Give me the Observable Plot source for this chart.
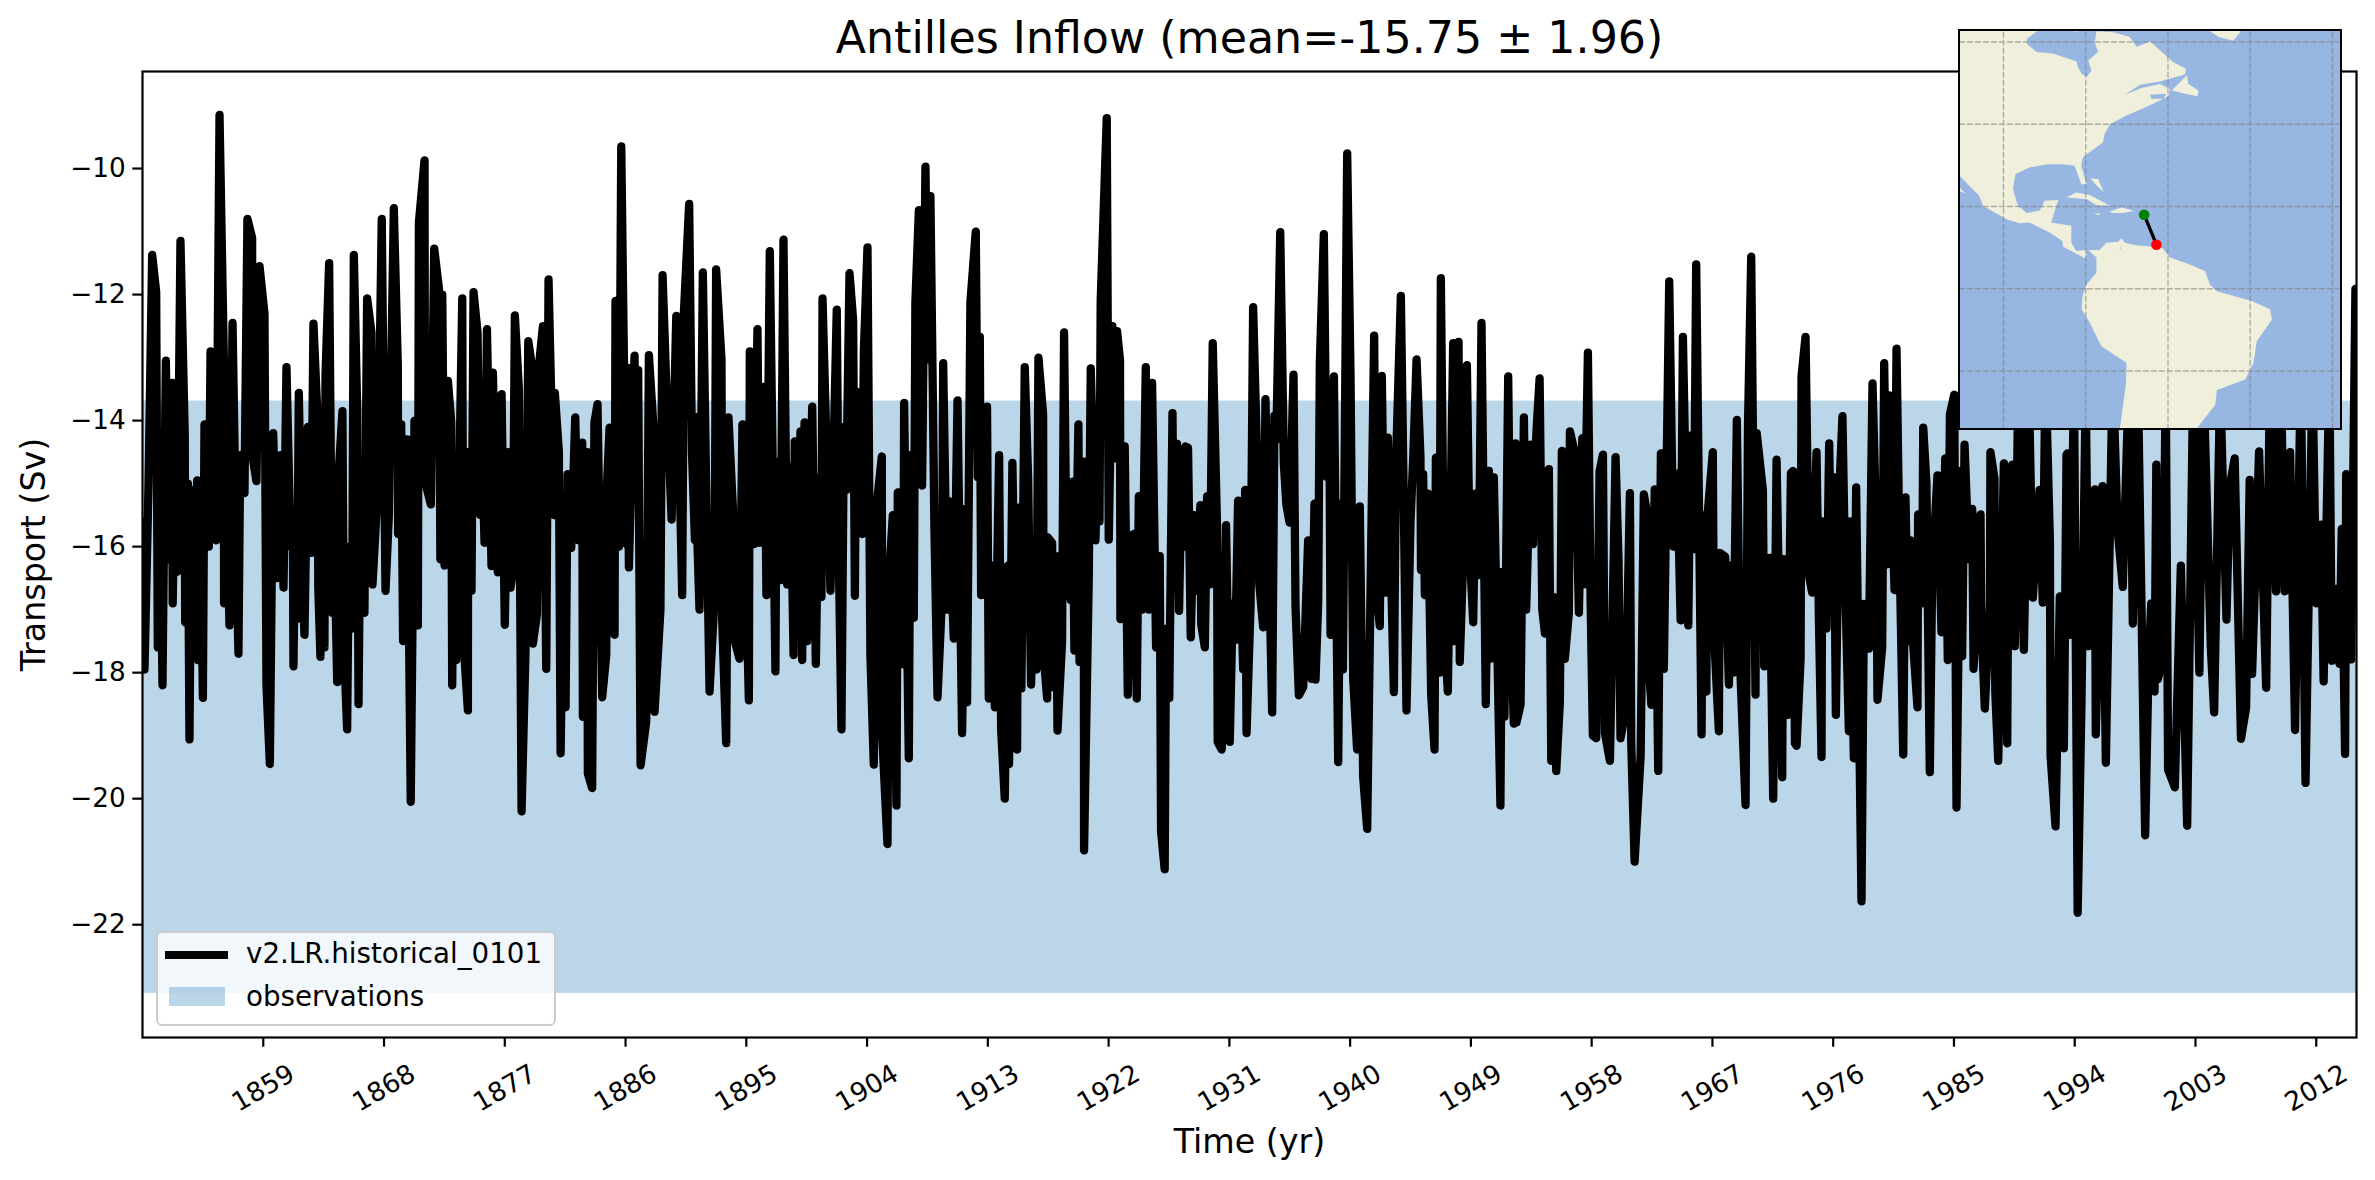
<!DOCTYPE html>
<html>
<head>
<meta charset="utf-8">
<script src="https://cdn.jsdelivr.net/npm/d3@7"></script>
<script src="https://cdn.jsdelivr.net/npm/@observablehq/plot@0.6"></script>
<style>
html,body{margin:0;padding:0;background:#fff;}
#wrap{position:relative;width:2375px;height:1180px;font-family:"DejaVu Sans",sans-serif;overflow:hidden;}
#inset{position:absolute;left:1958px;top:29px;}
#legend{position:absolute;left:156px;top:931px;width:396px;height:91px;box-sizing:content-box;background:rgba(255,255,255,.8);border:2.2px solid #ccc;border-radius:6px;font-size:27.7px;color:#000;}
#legend .t{position:absolute;left:88px;line-height:30px;white-space:nowrap;}
#legend .l{position:absolute;left:7px;top:18px;width:63px;height:8px;background:#000;}
#legend .p{position:absolute;left:11px;top:54px;width:56px;height:19px;background:#1f77b4;opacity:.3;}
</style>
</head>
<body>
<div id="wrap"><div id="chart"></div><div id="inset"></div>
<div id="legend"><div class="l"></div><div class="t" style="top:6px">v2.LR.historical_0101</div><div class="p"></div><div class="t" style="top:49px">observations</div></div>
</div>
<script>
const titleText = "Antilles Inflow (mean=-15.75 ± 1.96)";
const yLabel = "Transport (Sv)";
const xLabel = "Time (yr)";
const yearTicks = [1859,1868,1877,1886,1895,1904,1913,1922,1931,1940,1949,1958,1967,1976,1985,1994,2003,2012];
const transportTicks = [-22,-20,-18,-16,-14,-12,-10];
const obsLow = -23.09, obsHigh = -13.69;

// [decimal year, transport in Sv]
const seg1850 = [1850.00,-15.6,1850.15,-17.95,1850.45,-15.0,1850.72,-11.37,1851.02,-11.96,1851.14,-17.6,1851.34,-15.5,1851.49,-18.2,1851.74,-13.05,1851.94,-16.2,1852.21,-13.4,1852.25,-16.9,1852.42,-14.5,1852.58,-16.4,1852.83,-11.15,1853.15,-14.25,1853.18,-17.2,1853.38,-15.0,1853.50,-19.06,1853.65,-15.1,1853.87,-17.6,1854.07,-14.95,1854.12,-17.8,1854.32,-15.2,1854.50,-18.4,1854.62,-14.06,1854.94,-16,1855.07,-12.9,1855.31,-15.0,1855.49,-15.9,1855.74,-9.15,1856.06,-13.0,1856.08,-16.9,1856.26,-14.5,1856.48,-17.25,1856.71,-12.45,1856.98,-16,1857.15,-17.7,1857.28,-14.55,1857.60,-15.15,1857.82,-10.8,1858.17,-11.1,1858.19,-14.55,1858.49,-14.96,1858.72,-11.55,1859.09,-12.3,1859.24,-18.2,1859.49,-19.45,1859.74,-14.2,1860.03,-16.5,1860.28,-14.55,1860.51,-16.65,1860.73,-13.15,1861.03,-16,1861.20,-15.6,1861.25,-17.9,1861.40,-15.5,1861.52,-17.15,1861.65,-13.56,1861.85,-16,1862.07,-17.4,1862.32,-14.1,1862.57,-16.1,1862.74,-12.46,1863.06,-14.03,1863.10,-16.65,1863.26,-17.75,1863.34,-15.2,1863.56,-17.6,1863.64,-13.27,1863.91,-11.5,1864.13,-17.05,1864.26,-15.5,1864.51,-18.15,1864.63,-14.8,1864.90,-13.85,1865.00,-17.5,1865.25,-18.9,1865.38,-16,1865.62,-17.3,1865.75,-11.37,1866.00,-13.8,1866.10,-18.5,1866.24,-15.2,1866.54,-17.05,1866.74,-12.06,1867.06,-12.6,1867.14,-16.6,1867.54,-15.05,1867.83,-10.8,1868.11,-16.7,1868.36,-15.5,1868.73,-10.63,1869.03,-13.15,1869.05,-15.8,1869.28,-14.06,1869.42,-17.5,1869.72,-14.3,1869.99,-20.05,1870.27,-14.0,1870.52,-17.25];
const seg1870 = [1870.60,-10.85,1871.02,-9.87,1871.05,-14.96,1871.49,-15.33,1871.74,-11.27,1872.09,-11.9,1872.20,-16.2,1872.34,-12.0,1872.51,-16.3,1872.76,-13.37,1873.01,-14.03,1873.08,-18.2,1873.20,-15.6,1873.38,-17.8,1873.83,-12.06,1873.90,-17.42,1874.25,-18.6,1874.27,-14.5,1874.52,-16.7,1874.67,-11.96,1874.97,-12.6,1875.05,-14.2,1875.17,-15.5,1875.32,-14.5,1875.49,-15.94,1875.67,-12.55,1876.01,-16.31,1876.11,-13.24,1876.48,-16.41,1876.76,-13.58,1877.00,-17.24,1877.23,-14.5,1877.43,-16.65,1877.60,-16.4,1877.75,-12.33,1878.05,-13.5,1878.25,-20.2,1878.55,-17.6,1878.75,-12.74,1879.04,-13.16,1879.09,-17.54,1879.39,-17.08,1879.59,-13.04,1879.84,-12.5,1880.09,-17.94,1880.26,-11.76,1880.66,-15.5,1880.73,-13.56,1881.03,-14.5,1881.16,-19.28,1881.33,-16.7,1881.53,-18.55,1881.68,-14.85,1881.95,-16.02,1882.25,-13.95,1882.47,-15.9,1882.77,-14.35,1882.82,-18.7,1883.14,-14.5,1883.19,-19.6,1883.51,-19.83,1883.68,-14.03,1883.91,-13.74,1884.26,-18.39,1884.56,-17.72,1884.63,-14.97,1884.81,-14.11,1885.18,-17.4,1885.25,-12.1,1885.50,-16.0,1885.68,-9.65,1886.05,-15.96,1886.12,-13.16,1886.25,-16.33,1886.67,-12.97,1886.79,-15.2,1886.94,-13.2,1887.12,-19.47,1887.54,-18.78,1887.74,-12.96,1888.10,-14.18,1888.16,-18.62,1888.60,-17,1888.76,-11.69,1889.03,-13.4,1889.43,-15.57,1889.78,-12.34,1890.22,-16.77,1890.35,-12.28,1890.74,-10.56,1890.95,-14.5,1891.17,-15.9];
const seg1891 = [1891.21,-13.94,1891.35,-15.88,1891.51,-17,1891.76,-11.65,1892.03,-15.35,1892.26,-18.3,1892.63,-16.81,1892.75,-11.6,1893.15,-13.03,1893.20,-17.16,1893.50,-19.12,1893.67,-13.95,1894.08,-15.74,1894.12,-17.48,1894.49,-17.78,1894.71,-14.06,1895.19,-18.44,1895.26,-12.9,1895.56,-15.96,1895.83,-12.55,1895.98,-15.94,1896.35,-13.46,1896.50,-16.77,1896.75,-11.31,1897.17,-17.98,1897.25,-14.65,1897.55,-16.53,1897.77,-11.13,1898.04,-16.6,1898.29,-14.73,1898.52,-17.72,1898.61,-14.33,1898.85,-16.2,1899.04,-14.17,1899.16,-17.8,1899.34,-14.03,1899.53,-17.5,1899.91,-13.78,1900.18,-17.86,1900.40,-14.9,1900.60,-16.8,1900.68,-12.06,1901.02,-14.8,1901.27,-16.7,1901.74,-12.24,1901.90,-16.25,1902.09,-18.9,1902.27,-14.1,1902.45,-15.1,1902.69,-11.66,1902.96,-12.4,1903.09,-16.78,1903.19,-13.54,1903.63,-15.8,1903.76,-12.9,1904.03,-11.25,1904.25,-17.75,1904.50,-19.46,1904.68,-15.42,1905.10,-14.57,1905.12,-18.96,1905.52,-20.72,1905.62,-16.53,1905.92,-15.5,1906.19,-20.11,1906.29,-15.14,1906.70,-17.87,1906.76,-13.72,1907.11,-19.36,1907.23,-14.55,1907.48,-17.13,1907.60,-12.12,1907.86,-10.66,1908.10,-15.03,1908.35,-9.97,1908.53,-13.03,1908.72,-10.44,1909.02,-15.74,1909.25,-18.39,1909.60,-16.73,1909.67,-13.09,1909.97,-17,1910.09,-15.28,1910.46,-17.46,1910.74,-13.68,1911.08,-18.96,1911.33,-15.4,1911.45,-18.47];
const seg1911 = [1911.70,-12.12,1912.10,-11.0,1912.25,-14.9,1912.40,-12.67,1912.50,-16.77,1912.94,-13.78,1913.07,-18.41,1913.39,-16.3,1913.52,-18.55,1913.84,-14.55,1913.99,-18.9,1914.26,-20.0,1914.51,-16.3,1914.58,-19.45,1914.83,-14.67,1915.18,-19.22,1915.25,-15.38,1915.50,-18.25,1915.75,-13.15,1916.00,-14.9,1916.22,-18.19,1916.42,-16.2,1916.62,-17.95,1916.77,-13,1917.12,-13.9,1917.15,-17.7,1917.42,-18.41,1917.45,-15.85,1917.79,-15.94,1917.84,-18.23,1918.09,-16.15,1918.19,-18.92,1918.53,-17.52,1918.68,-12.6,1918.85,-15.9,1919.18,-16.85,1919.33,-14.97,1919.45,-17.65,1919.75,-14.06,1919.83,-17.83,1920.15,-14.65,1920.17,-20.82,1920.52,-16.5,1920.67,-13.17,1921.02,-15.9,1921.22,-14.25,1921.32,-15.6,1921.41,-12.1,1921.86,-9.2,1922.01,-15.89,1922.28,-12.5,1922.48,-14.6,1922.63,-12.58,1922.85,-13.04,1922.88,-17.15,1923.20,-14.41,1923.43,-18.35,1923.55,-15.9,1923.85,-15.8,1924.10,-18.41,1924.25,-15.2,1924.50,-17,1924.77,-13.15,1924.99,-17,1925.24,-13.4,1925.54,-17.6,1925.81,-16.15,1925.91,-20.52,1926.18,-21.12,1926.28,-17.3,1926.52,-18.4,1926.76,-13.88,1926.86,-16.37,1927.10,-14.37,1927.25,-17.02,1927.40,-15.3,1927.60,-16,1927.72,-14.41,1927.92,-14.43,1928.12,-17.44,1928.35,-15.5,1928.55,-16.7,1928.84,-15.34,1928.90,-17.23,1929.17,-17.6,1929.34,-15.2,1929.55,-16.6,1929.76,-12.77,1930.08,-15.68,1930.13,-19.1,1930.43,-19.22,1930.75,-15.66,1931.03,-19.1,1931.25,-16.9,1931.45,-17.48,1931.65,-15.27];
const seg1932 = [1932.03,-17.95,1932.18,-15.1,1932.28,-18.96,1932.58,-16.93,1932.77,-12.2,1933.07,-14.61,1933.22,-16.57,1933.52,-17.28,1933.69,-13.66,1933.94,-16.14,1934.19,-18.63,1934.36,-13.92,1934.50,-14.3,1934.79,-11.01,1935.06,-14.69,1935.25,-15.34,1935.49,-15.62,1935.78,-13.27,1935.93,-16.96,1936.18,-18.36,1936.50,-18.23,1936.87,-15.9,1937.12,-18.1,1937.34,-15.32,1937.42,-18.11,1937.62,-16.89,1937.74,-13.1,1938.04,-11.04,1938.24,-14.89,1938.44,-13.4,1938.54,-17.4,1938.79,-13.3,1939.11,-19.42,1939.28,-15.32,1939.46,-17.95,1939.78,-9.76,1940.03,-13.3,1940.23,-18.11,1940.52,-19.22,1940.72,-15.36,1940.97,-19.65,1941.27,-20.48,1941.79,-12.65,1941.94,-16.65,1942.21,-17.26,1942.36,-13.29,1942.59,-16.73,1942.81,-14.27,1943.26,-18.31,1943.41,-14.73,1943.78,-12.02,1944.00,-15.35,1944.20,-18.6,1944.50,-15.6,1944.70,-14.6,1944.95,-13.03,1945.24,-14.57,1945.28,-16.37,1945.44,-14.85,1945.57,-16.77,1945.79,-15.16,1946.04,-18.35,1946.29,-19.22,1946.39,-14.59,1946.66,-18.0,1946.76,-11.74,1947.03,-17.4,1947.28,-18.3,1947.68,-12.77,1947.72,-17.5,1948.08,-12.75,1948.17,-17.83,1948.42,-16.25,1948.70,-13.12,1948.90,-16,1949.17,-17.2,1949.34,-15.16,1949.59,-16.45,1949.79,-12.45,1950.11,-18.5,1950.34,-14.8,1950.46,-17.78,1950.71,-14.9,1950.95,-17.4,1951.20,-20.11,1951.32,-16.4,1951.50,-18.7,1951.78,-13.3,1952.00,-17.48,1952.20,-18.81,1952.32,-14.36];
const seg1952 = [1952.40,-18.79,1952.70,-18.51,1952.95,-13.95,1953.12,-17.0,1953.45,-14.38,1953.62,-15.96,1953.88,-14.2,1954.12,-13.33,1954.32,-17,1954.52,-17.38,1954.81,-14.77,1954.99,-19.4,1955.18,-16.8,1955.36,-19.56,1955.63,-18.47,1955.78,-14.48,1956.00,-17.78,1956.30,-17.05,1956.38,-14.17,1956.80,-14.56,1957.05,-17.05,1957.30,-14.28,1957.42,-16.6,1957.72,-12.92,1957.92,-16.85,1958.09,-19,1958.34,-19.04,1958.59,-14.8,1958.84,-14.54,1958.99,-18.96,1959.36,-19.4,1959.78,-14.58,1960.00,-16.2,1960.15,-19.04,1960.53,-18.6,1960.85,-15.15,1960.95,-19.12,1961.20,-21.0,1961.65,-19.32,1961.89,-15.17,1962.15,-15.5,1962.22,-17.78,1962.45,-18.51,1962.70,-15.09,1962.96,-19.56,1963.16,-14.52,1963.38,-17.94,1963.78,-11.79,1964.08,-16,1964.38,-14.84,1964.63,-17.17,1964.80,-12.67,1965.20,-17.25,1965.37,-14.24,1965.62,-16.04,1965.79,-11.52,1966.19,-18.98,1966.30,-15.5,1966.55,-18.3,1966.61,-15.57,1967.03,-14.5,1967.10,-17.3,1967.48,-18.93,1967.55,-16.1,1967.95,-16.16,1968.23,-18.19,1968.35,-16.3,1968.55,-18,1968.82,-13.99,1969.05,-17.8,1969.47,-20.1,1969.65,-14.1,1969.89,-11.4,1970.21,-18.35,1970.30,-14.2,1970.76,-15.1,1970.86,-17.9,1971.26,-16.18,1971.53,-20.0,1971.78,-14.62,1972.20,-19.66,1972.28,-16.2,1972.62,-18.67,1972.85,-14.83];
const seg1973 = [1973.02,-14.8,1973.15,-19.12,1973.27,-19.16,1973.57,-17.78,1973.64,-13.3,1973.94,-12.67,1974.19,-16.45,1974.43,-16.73,1974.76,-14.5,1974.94,-17.2,1975.13,-19.34,1975.18,-15.6,1975.50,-17.3,1975.70,-14.36,1975.92,-17,1976.05,-14.9,1976.20,-18.67,1976.42,-15.3,1976.69,-13.93,1976.92,-16.81,1977.17,-18.93,1977.22,-15.6,1977.54,-19.36,1977.71,-15.06,1978.11,-21.63,1978.29,-16.91,1978.66,-17.62,1978.93,-13.41,1979.22,-15.8,1979.30,-18.43,1979.65,-17.6,1979.80,-13.09,1980.02,-16.28,1980.17,-13.6,1980.57,-16.69,1980.72,-12.86,1980.90,-15.5,1981.22,-19.3,1981.39,-15.22,1981.57,-17.5,1981.76,-15.9,1981.96,-17.54,1982.28,-18.55,1982.33,-15.49,1982.63,-16.9,1982.71,-14.11,1982.95,-15.0,1983.20,-19.58,1983.38,-16.4,1983.77,-14.87,1984.07,-17.36,1984.35,-14.6,1984.54,-17.8,1984.70,-13.9,1985.02,-13.59,1985.19,-20.14,1985.50,-14.8,1985.61,-17.74,1985.79,-14.38,1986.11,-16.2,1986.36,-15.4,1986.46,-17.94,1986.98,-15.49,1987.03,-17.13,1987.30,-18.57,1987.68,-16.9,1987.72,-14.5,1988.02,-14.92,1988.08,-18.3,1988.30,-19.4,1988.72,-14.68,1988.97,-19.12,1989.09,-14.8,1989.34,-14.7,1989.54,-17.58,1989.81,-13.2,1989.96,-14.8,1990.21,-17.64,1990.58,-13.4,1990.88,-16.81,1991.38,-15.1,1991.62,-16.89,1991.82,-13.2,1992.15,-15.9,1992.20,-19.32,1992.57,-20.44,1992.89,-16.79,1993.19,-19.2,1993.39,-14.54];
const seg1993 = [1993.45,-14.52,1993.62,-17.4,1993.95,-13.5,1994.22,-21.81,1994.50,-18.52,1994.82,-13.5,1995.02,-17.58,1995.50,-15.09,1995.57,-18.98,1996.07,-15.04,1996.32,-19.43,1996.83,-13.2,1997.20,-15.73,1997.58,-16.64,1998.08,-13.0,1998.33,-17.22,1998.70,-13.3,1999.25,-20.58,1999.50,-17.9,1999.70,-16.9,1999.95,-18.3,2000.08,-14.7,2000.20,-18.1,2000.58,-17.75,2000.78,-13.3,2000.96,-19.54,2001.46,-19.82,2001.91,-16.3,2002.38,-20.43,2002.84,-13.2,2003.29,-18.0,2003.59,-13.3,2004.14,-17.58,2004.39,-18.63,2004.84,-13.4,2005.31,-17.16,2005.55,-15.05,2005.92,-14.6,2006.39,-19.05,2006.77,-18.56,2007.04,-14.94,2007.22,-18.02,2007.74,-14.49,2008.27,-18.24,2008.54,-13.4,2009.00,-16.71,2009.35,-13.1,2009.64,-16.71,2010.05,-14.5,2010.42,-18.91,2010.85,-13.2,2011.20,-19.75,2011.72,-13.3,2012.00,-16.9,2012.35,-15.65,2012.55,-18.14,2012.98,-13.2,2013.15,-17.81,2013.48,-16.67,2013.73,-17.86,2013.90,-15.72,2014.15,-19.29,2014.23,-14.85,2014.60,-17.79,2014.92,-11.91];

// inset map, in degrees [lon, lat]
const mapExtent = {west:-110.7, east:-17.8, south:-34.1, north:62.8};
const gridLons = [-100,-80,-60,-40,-20];
const gridLats = [-20,0,20,40,60];
const sectionStart = [-65.8,18.0];
const sectionEnd = [-62.8,10.7];
const northAmerica = [[-112,64],[-90,64],[-94.3,60.8],[-94.3,59.6],[-92,57.6],[-88,57.2],[-82.3,55.3],[-81.9,53.9],[-81,52.3],[-79.8,51.5],[-78.6,53.1],[-79.4,55.5],[-77,57.6],[-77.8,60],[-77.4,62.6],[-73.3,62.4],[-69.3,61.2],[-67.6,58.8],[-64.4,60.2],[-61.5,57.6],[-58.7,55.1],[-55.6,53.5],[-55.9,52.1],[-62,50.4],[-66.8,49.6],[-70.5,47.2],[-66.4,48.8],[-62,49.8],[-59.5,48.6],[-59.9,46.8],[-63.6,45],[-66,43.9],[-70.1,42.1],[-74.1,40],[-75.4,37.6],[-75.8,35.6],[-80.7,32],[-81.1,29.9],[-79.8,25.4],[-81.1,25.4],[-82.7,29.9],[-85.5,30.3],[-89.2,30.3],[-93.7,29.5],[-97.1,27.9],[-97.7,24.2],[-96.5,20.2],[-94.3,18.4],[-91.2,19],[-90,21.4],[-86.7,21.6],[-88.4,16.1],[-83.5,15.3],[-83.5,11.2],[-82.3,9.2],[-79.8,9.4],[-80,7.3],[-85.5,10.2],[-85.7,11.6],[-88.8,13.7],[-93.7,16.1],[-96.1,15.9],[-99.3,16.9],[-105,20.2],[-105.9,22.6],[-110.7,27.5],[-112,28]];
const southAmerica = [[-79.4,9.4],[-77.4,7.6],[-77.4,3.9],[-79.8,1],[-80.8,-1.8],[-81,-5],[-79,-8.3],[-76.2,-14],[-70.1,-18],[-70.2,-22.9],[-71.7,-34],[-71.7,-36],[-52,-36],[-53,-34],[-48.5,-28.2],[-48.1,-24.6],[-41.2,-22.1],[-39.2,-18],[-38.4,-12.8],[-34.7,-7.5],[-35.2,-5],[-39.6,-3],[-48.1,-0.6],[-49.8,1],[-51,4.3],[-55.5,6.2],[-59.5,7.6],[-61.5,10],[-67.7,10.6],[-70.5,11.2],[-71.3,12.3],[-72,11.4],[-75,11.2],[-76.6,9.4]];
const newfoundland = [[-59.1,48.2],[-55.4,51.9],[-55,49.8],[-52.6,48.2],[-52.8,46.8],[-55.9,47.4]];
const cuba = [[-84.7,22.2],[-82.3,23.4],[-79,22.8],[-74.1,20.2],[-77.4,20.3],[-79.8,21.8],[-82.3,22]];
const hispaniola = [[-74.3,18.7],[-71.3,19.8],[-68.3,18.9],[-71,18.4],[-73.4,18.4]];
const jamaica = [[-78,18.4],[-76.2,18.2],[-77,17.9]];
const bahamas = [[-78.9,26.8],[-77,26.7],[-75.6,23.5],[-77.2,25]];
const bajaTip = [[-111,24.9],[-109.3,23.2],[-111,23.8]];
const greenland = [[-50.2,64],[-50.2,63],[-47.7,61.2],[-44.1,60.3],[-42.4,62.5],[-42.4,64]];
const arcticIsland = [[-83.9,62.9],[-82,62.5],[-80.5,63.5]];
const landRings = [northAmerica,southAmerica,newfoundland,cuba,hispaniola,jamaica,bahamas,bajaTip,greenland,arcticIsland];
const lakeMaracaibo = [[-71.8,9.5],[-71.2,10.9],[-71.6,9.5]];
const gulfPatch = [[-64.4,47.2],[-60.3,47.4],[-61.1,46.2],[-64,46.2]];
const oceanColor = "#97b6e1", landColor = "#efefdb";

function pairs(flat){const out=[];for(let i=0;i<flat.length;i+=2)out.push({t:flat[i],v:flat[i+1]});return out;}
const series = d3.sort([seg1850,seg1870,seg1891,seg1911,seg1932,seg1952,seg1973,seg1993].flatMap(pairs),d=>d.t);
const font = "DejaVu Sans";

const chart = Plot.plot({
  width:2375,height:1180,
  marginLeft:142,marginRight:19,marginTop:71,marginBottom:143,
  style:{fontFamily:font,background:"#fff",color:"#000"},
  x:{domain:[1850,2015]},
  y:{domain:[-23.79,-8.46]},
  marks:[
    Plot.rect([{a:1850,b:2015,lo:obsLow,hi:obsHigh}],{x1:"a",x2:"b",y1:"lo",y2:"hi",fill:"#1f77b4",fillOpacity:0.3}),
    Plot.line(series,{x:"t",y:"v",stroke:"#000",strokeWidth:8.3,strokeLinejoin:"round",strokeLinecap:"round",clip:true}),
    Plot.frame({stroke:"#000",strokeWidth:2.2}),
    Plot.axisX({ticks:yearTicks,tickFormat:"d",tickSize:9.7,tickPadding:41,tickRotate:-30,textAnchor:"middle",lineAnchor:"middle",fontSize:26.3,label:null,strokeWidth:2.2}),
    Plot.axisY({ticks:transportTicks,tickSize:9.7,tickPadding:7,fontSize:26.3,label:null,strokeWidth:2.2}),
    Plot.text([titleText],{frameAnchor:"top",dy:-33,lineAnchor:"middle",fontSize:44.3,fill:"#000"}),
    Plot.text([xLabel],{frameAnchor:"bottom",dy:105,lineAnchor:"middle",fontSize:33.3,fill:"#000"}),
    Plot.text([yLabel],{frameAnchor:"left",dx:-108,rotate:-90,textAnchor:"middle",lineAnchor:"middle",fontSize:33.3,fill:"#000"})
  ]
});
document.getElementById("chart").appendChild(chart);

const W=384,H=401;
const sc=(W-2)/(mapExtent.east-mapExtent.west);
const proj=d3.geoIdentity().reflectY(true).scale(sc).translate([1-mapExtent.west*sc,1+mapExtent.north*sc]);
const land={type:"MultiPolygon",coordinates:landRings.map(r=>[[...r,r[0]]])};
const water={type:"MultiPolygon",coordinates:[lakeMaracaibo,gulfPatch].map(r=>[[...r,r[0]]])};
const graticule={type:"MultiLineString",coordinates:[
  ...gridLons.map(x=>[[x,mapExtent.south-2],[x,mapExtent.north+2]]),
  ...gridLats.map(y=>[[mapExtent.west-2,y],[mapExtent.east+2,y]])]};
const section={type:"LineString",coordinates:[sectionStart,sectionEnd]};
const inset = Plot.plot({
  width:W,height:H,margin:0,projection:proj,
  style:{background:oceanColor,display:"block"},
  marks:[
    Plot.geo(land,{fill:landColor,stroke:"none"}),
    Plot.geo(water,{fill:oceanColor,stroke:"none"}),
    Plot.geo(graticule,{fill:"none",stroke:"#808080",strokeOpacity:0.6,strokeWidth:1.4,strokeDasharray:"5,3"}),
    Plot.geo(section,{fill:"none",stroke:"#000",strokeWidth:3.3}),
    Plot.dot([sectionStart],{x:d=>d[0],y:d=>d[1],fill:"green",r:5.3}),
    Plot.dot([sectionEnd],{x:d=>d[0],y:d=>d[1],fill:"red",r:5.3})
  ]
});
const border=document.createElement("div");
border.style.cssText=`position:absolute;left:0;top:0;width:${W-4}px;height:${H-4}px;border:2.2px solid #000;`;
const holder=document.getElementById("inset");
holder.appendChild(inset);holder.appendChild(border);
</script>
</body>
</html>
